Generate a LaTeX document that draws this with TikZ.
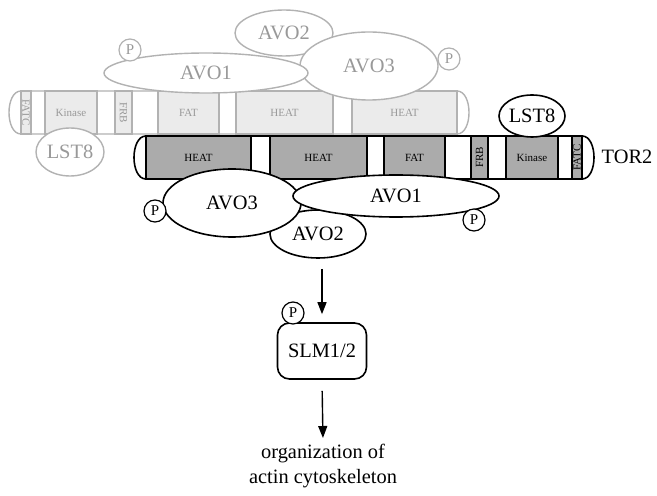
\documentclass[tikz,border=0pt]{standalone}
\usepackage{fontspec}
\setmainfont{Liberation Serif}
\usetikzlibrary{arrows.meta, shapes.geometric}
\definecolor{domgray}{gray}{0.67}
\definecolor{backfill}{gray}{0.92}
\definecolor{backline}{gray}{0.70}
\definecolor{backtext}{gray}{0.60}

\begin{document}
\begin{tikzpicture}[x=0.5pt, y=-0.5pt,
    every node/.style={font=\fontsize{10.2}{12.5}\selectfont},
    bar/.style={draw=black, line width=0.8pt, fill=white},
    dom/.style={draw=black, line width=0.8pt, fill=domgray},
    dlbl/.style={inner sep=0pt, font=\fontsize{5.5}{6}\selectfont},
    avo/.style={ellipse, draw=black, line width=0.8pt, fill=white, inner sep=0pt},
    phos/.style={circle, draw=black, line width=0.6pt, fill=white, inner sep=0pt,
                 minimum size=11pt, font=\fontsize{7.5}{8}\selectfont},
    back/.style={draw=backline, text=backtext},
    backdom/.style={draw=backline, line width=0.7pt, fill=backfill},
    arr/.style={-{Triangle[length=6pt, width=4.5pt]}, line width=0.7pt},
]
    \useasboundingbox (0,0) rectangle (657,496);

    % TOR2 seen from behind (grey copy).
    \draw[bar, draw=backline, line width=0.7pt] (21,91) -- (457,91)
        .. controls (473,91) and (473,134) .. (457,134) -- (21,134)
        .. controls (5,134) and (5,91) .. cycle;
    \foreach \a/\b/\txt/\rot [count=\i] in {21/31/FATC/-90, 45/97/Kinase/0, 115/132/FRB/-90,
                                            158/219/FAT/0, 236/333/HEAT/0, 352/457/HEAT/0}{
        \draw[backdom] (\a,91) rectangle (\b,134);
        \node[dlbl, text=backtext, rotate=\rot] (back\i) at ({(\a+\b)/2},112.5) {\txt};
    }

    % grey partners
    \node[avo, back, line width=0.7pt, minimum width=49pt, minimum height=23pt] (gavo2) at (284,33) {AVO2};
    \node[avo, back, line width=0.7pt, minimum width=69pt, minimum height=34pt] (gavo3) at (369,66) {AVO3};
    \node[avo, back, line width=0.7pt, minimum width=102pt, minimum height=20pt] (gavo1) at (206,73) {AVO1};
    \node[avo, back, line width=0.7pt, minimum width=34pt, minimum height=24pt] (glst8) at (70,152) {LST8};
    \node[phos, back] (gp1) at (130,50) {P};
    \node[phos, back] (gp3) at (449,59) {P};

    % TOR2 in front.
    \draw[bar] (146,136) -- (582,136)
        .. controls (598,136) and (598,179) .. (582,179) -- (146,179)
        .. controls (130,179) and (130,136) .. cycle;
    \foreach \a/\b/\txt/\rot [count=\i] in {146/251/HEAT/0, 270/367/HEAT/0, 384/445/FAT/0,
                                            471/488/FRB/90, 506/558/Kinase/0, 572/582/FATC/90}{
        \draw[dom] (\a,136) rectangle (\b,179);
        \node[dlbl, rotate=\rot] (tor\i) at ({(\a+\b)/2},157.5) {\txt};
    }
    \node (tor2) at (627,157) {TOR2};

    % partners
    \node[avo, minimum width=33pt, minimum height=21pt] (lst8) at (532,116) {LST8};
    \node[avo, minimum width=48pt, minimum height=24pt] (avo2) at (318,234) {AVO2};
    \node[avo, minimum width=69pt, minimum height=34pt] (avo3) at (232,203) {AVO3};
    \node[avo, minimum width=103pt, minimum height=21pt] (avo1) at (396,196) {AVO1};
    \node[phos] (p3) at (155,211) {P};
    \node[phos] (p1) at (474,220) {P};

    % downstream
    \node[draw, line width=0.8pt, rounded corners=6pt, minimum width=44.5pt,
          minimum height=28pt] (slm) at (322,351) {SLM1/2};
    \node[phos] (pslm) at (293,313) {P};
    \node[align=center, anchor=north, inner sep=1pt] (actin) at (323,442)
        {organization of\\actin cytoskeleton};

    \draw[arr, shorten <=5pt, shorten >=4pt] (avo2.south -| slm.north) -- (slm.north);
    \draw[arr, shorten <=5.5pt, shorten >=2pt] (slm.south) -- (actin.north);
\end{tikzpicture}
\end{document}
